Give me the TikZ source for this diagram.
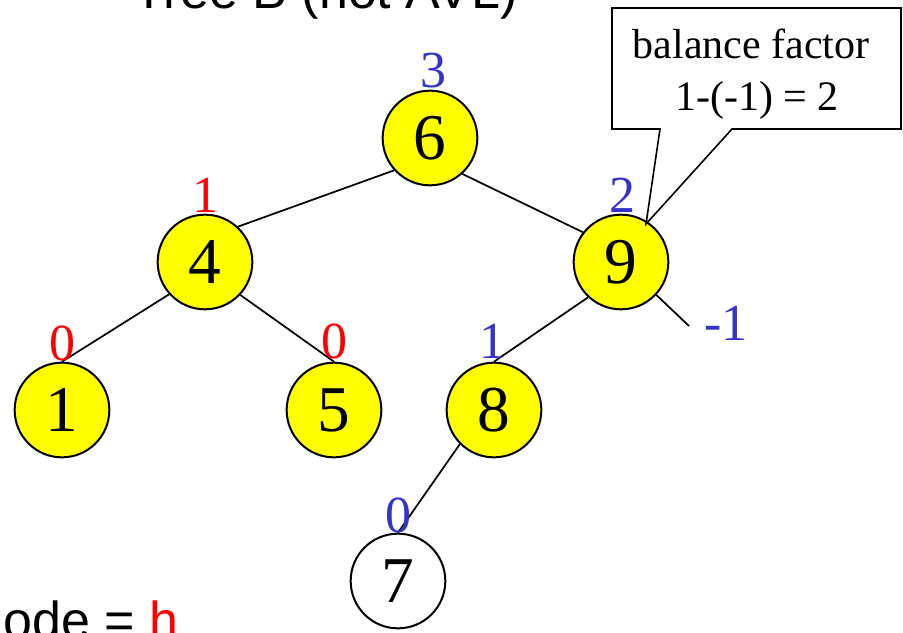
\documentclass[tikz,border=0pt]{standalone}
\usepackage{fontspec}
\setmainfont{Liberation Serif}
\newfontfamily\arialf{Liberation Sans}
\definecolor{hblue}{RGB}{51,51,204}
\definecolor{hred}{RGB}{255,0,0}
\definecolor{nodeyellow}{RGB}{255,255,0}
\begin{document}
\begin{tikzpicture}[x=0.75pt,y=-0.75pt,
  treenode/.style={circle,draw=black,line width=1.5pt,fill=nodeyellow,minimum size=71pt,inner sep=0pt,font=\fontsize{49}{50}\selectfont},
  leafnode/.style={treenode,fill=white},
  edge/.style={draw=black,line width=1.3pt},
  hlabel/.style={anchor=base,inner sep=0pt,font=\fontsize{39}{40}\selectfont},
  bluel/.style={hlabel,text=hblue},
  redl/.style={hlabel,text=hred},
  boxtext/.style={anchor=base,inner sep=0pt,font=\fontsize{31.5}{32}\selectfont},
  sanstext/.style={anchor=base west,inner sep=0pt,font=\arialf\fontsize{39}{40}\selectfont}]
\useasboundingbox (0,0) rectangle (903,632);
\fill[white] (0,0) rectangle (903,632);

% title (cut off at top)
\node[sanstext] (title) at (133,8) {Tree B (not AVL)};

% nodes
\node[treenode] (n6) at (430,138) {6};
\node[treenode] (n4) at (205,262) {4};
\node[treenode] (n9) at (621,262) {9};
\node[treenode] (n1) at (62,410) {1};
\node[treenode] (n5) at (334,410) {5};
\node[treenode] (n8) at (494,410) {8};
\node[leafnode] (n7) at (398,581) {7};
\coordinate (free) at (689,326);

% edges
\draw[edge] (n6.222) -- (n4.47);
\draw[edge] (n6.312) -- (n9.142);
\draw[edge] (n4.222) -- (n1.north);
\draw[edge] (n4.317) -- (n5.north);
\draw[edge] (n9.227) -- (n8.north);
\draw[edge] (n8.225) -- (n7.north);
\draw[edge] (n9.317) -- (free);

% height labels
\node[bluel] (h6) at (433,87) {3};
\node[redl] (h4) at (205,212) {1};
\node[bluel] (h9) at (622,212) {2};
\node[redl] (h1) at (62,360) {0};
\node[redl] (h5) at (334,358) {0};
\node[bluel] (h8) at (492,358) {1};
\node[bluel] (h7) at (398,532) {0};
\node[bluel] (hr) at (726,340) {-1};

% callout
\coordinate (tip) at (646,224);
\draw[line width=1.2pt,fill=white,line join=miter]
  (612,8) -- (901,8) -- (901,129) -- (732,129) -- (tip) -- (660,129) -- (612,129) -- cycle;
\node[boxtext] (bf1) at (751,58) {balance factor};
\node[boxtext] (bf2) at (757,110) {1-(-1) = 2};

% bottom text (cut off)
\node[sanstext] (bottom) at (3,638) {ode = \textcolor{hred}{h}};
\end{tikzpicture}
\end{document}
